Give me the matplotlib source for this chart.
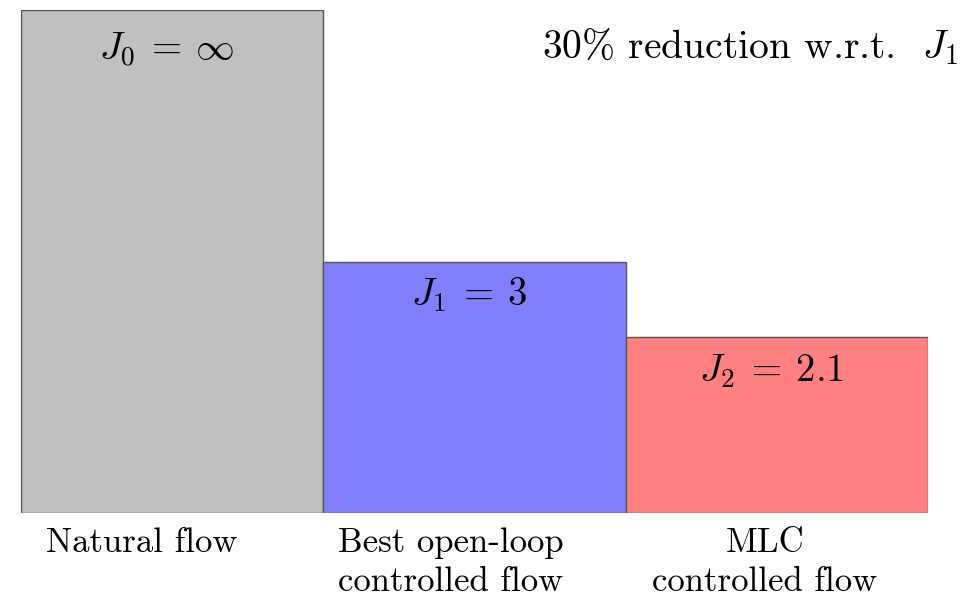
"""
Cost comparison: natural flow vs open-loop vs MLC control.
"""

import matplotlib

matplotlib.use("Agg")
import matplotlib.pyplot as plt

plt.rcParams["mathtext.fontset"] = "cm"
plt.rcParams["font.family"] = "serif"
plt.rcParams["font.serif"] = ["cmr10"]
plt.rcParams["axes.formatter.use_mathtext"] = True

# Data
categories = ["Natural flow", "Best open-loop\ncontrolled flow", "MLC\ncontrolled flow"]
heights = [6.0, 3.0, 2.1]
bar_labels = [r"$J_0\:=\:\infty$", r"$J_1\:=\:3$", r"$J_2\:=\:2.1$"]
colors = ["#c0c0c0", "#8080ff", "#ff8080"]
note = r"30% reduction w.r.t.  $J_1$"

fig = plt.figure(figsize=(9.8, 5.97), dpi=100)
ax = fig.add_axes([21 / 980, 84 / 597, 907 / 980, 503 / 597])

x = list(range(len(heights)))
bars = ax.bar(x, heights, width=1.0, align="edge", color=colors,
              edgecolor="#555555", linewidth=1.0)

ax.set_xlim(0, len(heights))
ax.set_ylim(0, max(heights))
ax.axis("off")

# value labels inside each bar, near the top
for bar, lab, dy in zip(bars, bar_labels, [-40, -33, -34]):
    ax.annotate(lab, (bar.get_x() + bar.get_width() / 2, bar.get_height()),
                xytext=(-4, dy * 0.72), textcoords="offset points",
                ha="center", va="center", fontsize=28)

# category labels under the bars (shifted left like the original)
for i, (cat, shift) in enumerate(zip(categories, [-0.1, -0.08, -0.04])):
    ax.text(i + 0.5 + shift, -0.17, cat, ha="center", va="top",
            fontsize=25, linespacing=1.3)

fig.text(750 / 980, 1 - 47 / 597, note, ha="center", va="center", fontsize=28.5)

fig.savefig("out.png", dpi=100, facecolor="white")
plt.close(fig)
